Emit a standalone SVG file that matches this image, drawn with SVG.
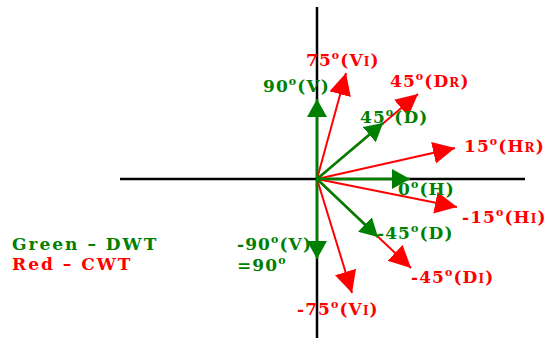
<svg xmlns="http://www.w3.org/2000/svg" width="547" height="338" viewBox="0 0 547 338">
<style>
.ax{stroke:#000;stroke-width:2.5;fill:none}
.r{stroke:#ff0000;stroke-width:2;fill:none;marker-end:url(#hr)}
.g{stroke:#008000;stroke-width:2.5;fill:none;marker-end:url(#hg)}
text{font-family:"DejaVu Serif","Liberation Serif",serif;font-weight:bold;font-size:17px;letter-spacing:1.1px}
.tr{fill:#ff0000}
.tg{fill:#008000}
.lg{letter-spacing:2px}
.sup{font-size:11px}
.sm{font-size:12px}
</style>
<defs>
<marker id="hr" markerUnits="userSpaceOnUse" markerWidth="24" markerHeight="24" refX="22" refY="11" orient="auto" viewBox="0 0 24 24">
<polygon points="0,0 22,11 0,22" fill="#ff0000"/>
</marker>
<marker id="hg" markerUnits="userSpaceOnUse" markerWidth="22" markerHeight="22" refX="18" refY="10" orient="auto" viewBox="0 0 22 22">
<polygon points="0,0 18,10 0,20" fill="#008000"/>
</marker>
</defs>
<g id="axes">
<line class="ax" x1="317" y1="7" x2="317" y2="338"/>
<line class="ax" x1="120" y1="179" x2="525" y2="179"/>
</g>
<g id="connectors">
<line class="r" x1="317" y1="179" x2="346" y2="73"/>
<line class="r" x1="317" y1="179" x2="418" y2="94"/>
<line class="r" x1="317" y1="179" x2="455" y2="148"/>
<line class="r" x1="317" y1="179" x2="457" y2="207"/>
<line class="r" x1="317" y1="179" x2="411" y2="268"/>
<line class="r" x1="317" y1="179" x2="352" y2="293"/>
<line class="g" x1="317" y1="179" x2="317" y2="99"/>
<line class="g" x1="317" y1="179" x2="410" y2="179"/>
<line class="g" x1="317" y1="179" x2="383" y2="123"/>
<line class="g" x1="317" y1="179" x2="378" y2="237"/>
<line class="g" x1="317" y1="179" x2="317" y2="259"/>
</g>
<g id="label-75">
<text class="tr" x="306" y="66">75<tspan class="sup" dy="-7">o</tspan><tspan dy="7">(V</tspan><tspan class="sm">I</tspan>)</text>
</g>
<g id="label-45r">
<text class="tr" x="390" y="87">45<tspan class="sup" dy="-7">o</tspan><tspan dy="7">(D</tspan><tspan class="sm">R</tspan>)</text>
</g>
<g id="label-90">
<text class="tg" x="263" y="92">90<tspan class="sup" dy="-7">o</tspan><tspan dy="7">(V)</tspan></text>
</g>
<g id="label-45g">
<text class="tg" x="360" y="123">45<tspan class="sup" dy="-7">o</tspan><tspan dy="7">(D)</tspan></text>
</g>
<g id="label-15">
<text class="tr" x="464" y="152">15<tspan class="sup" dy="-7">o</tspan><tspan dy="7">(H</tspan><tspan class="sm">R</tspan>)</text>
</g>
<g id="label-0">
<text class="tg" x="398" y="195">0<tspan class="sup" dy="-7">o</tspan><tspan dy="7">(H)</tspan></text>
</g>
<g id="label-m15">
<text class="tr" x="462" y="223">-15<tspan class="sup" dy="-7">o</tspan><tspan dy="7">(H</tspan><tspan class="sm">I</tspan>)</text>
</g>
<g id="label-m45g">
<text class="tg" x="377" y="239">-45<tspan class="sup" dy="-7">o</tspan><tspan dy="7">(D)</tspan></text>
</g>
<g id="label-m45r">
<text class="tr" x="411" y="283">-45<tspan class="sup" dy="-7">o</tspan><tspan dy="7">(D</tspan><tspan class="sm">I</tspan>)</text>
</g>
<g id="label-m90">
<text class="tg" x="237" y="250">-90<tspan class="sup" dy="-7">o</tspan><tspan dy="7">(V)</tspan></text>
<text class="tg" x="237" y="271">=90<tspan class="sup" dy="-7">o</tspan></text>
</g>
<g id="label-m75">
<text class="tr" x="297" y="315">-75<tspan class="sup" dy="-7">o</tspan><tspan dy="7">(V</tspan><tspan class="sm">I</tspan>)</text>
</g>
<g id="legend">
<text class="tg lg" x="12" y="250">Green – DWT</text>
<text class="tr lg" x="12" y="270">Red – CWT</text>
</g>
</svg>
